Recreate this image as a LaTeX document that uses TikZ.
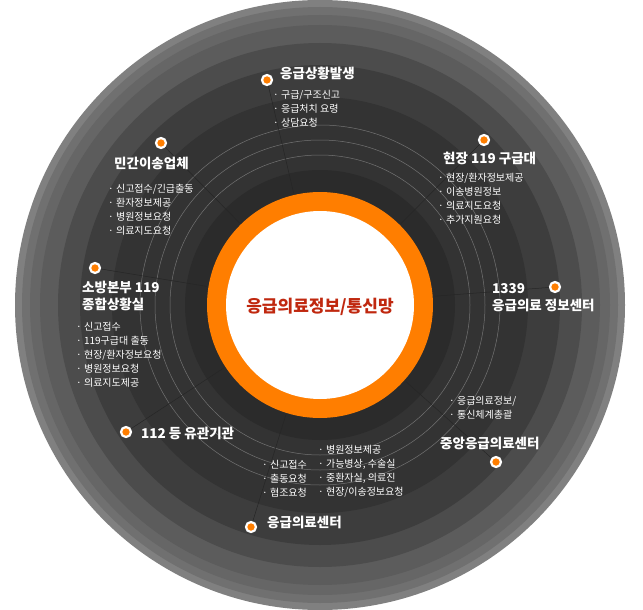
\documentclass[tikz,border=0pt]{standalone}
\usepackage{fontspec}
\setmainfont{Noto Sans CJK KR}
\usetikzlibrary{calc}
\definecolor{org}{HTML}{FF7E00}
\definecolor{cred}{HTML}{C0280F}
\tikzset{
 dot/.style={circle,fill=org,draw=white,line width=2.2pt,minimum size=10pt,inner sep=0pt},
 ttl/.style={anchor=west,text=white,font=\fontsize{13.5}{17}\selectfont\bfseries,inner sep=0pt,align=left},
 bul/.style={anchor=north west,text=white,font=\fontsize{10}{14}\selectfont,inner sep=0pt,align=left},
 conn/.style={draw=black!85,line width=0.5pt},
 ring/.style={draw=white!45!black,line width=0.5pt}
}
\begin{document}
\begin{tikzpicture}[x=1pt,y=-1pt]
\useasboundingbox (0,0) rectangle (643,610);
\fill[white] (0,0) rectangle (643,610);
\coordinate (c) at (320,305);
\fill[black!50] (c) circle (305);
\fill[black!56] (c) circle (298);
\fill[black!60] (c) circle (290);
\fill[black!64] (c) circle (280);
\fill[black!70] (c) circle (262);
\fill[black!76] (c) circle (240);
\fill[black!80] (c) circle (208);
\draw[ring] (c) circle (180);
\draw[ring] (c) circle (165);
\draw[ring] (c) circle (150);
\fill[black!83] (c) circle (135);
\node[dot] (d1) at (267,80) {};
\node[dot] (d2) at (161,143) {};
\node[dot] (d3) at (484,140) {};
\node[dot] (d4) at (95,268) {};
\node[dot] (d5) at (555,287) {};
\node[dot] (d6) at (126,432) {};
\node[dot] (d7) at (496,462) {};
\node[dot] (d8) at (251,527) {};
\foreach \d in {d1,d2,d3,d4,d5,d6,d7,d8}{
 \coordinate (e\d) at ($(c)!115pt!(\d)$);
 \draw[conn] (\d) -- (e\d);
}
\fill[org] (c) circle (113);
\fill[white] (c) circle (94);
\node[text=cred,font=\fontsize{17}{19}\selectfont\bfseries] (center) at (320,307) {응급의료정보/통신망};
\node[ttl] (t1) at (280,73) {응급상황발생};
\node[bul] (b1) at (273,90) {· 구급/구조신고\\· 응급처치 요령\\· 상담요청};
\node[ttl] (t2) at (114,163) {민간이송업체};
\node[bul] (b2) at (108,184) {· 신고접수/긴급출동\\· 환자정보제공\\· 병원정보요청\\· 의료지도요청};
\node[ttl] (t3) at (443,158) {현장 119 구급대};
\node[bul] (b3) at (438,173) {· 현장/환자정보제공\\· 이송병원정보\\· 의료지도요청\\· 추가지원요청};
\node[ttl] (t4) at (82,296) {소방본부 119\\종합상황실};
\node[bul] (b4) at (76,322) {· 신고접수\\· 119구급대 출동\\· 현장/환자정보요청\\· 병원정보요청\\· 의료지도제공};
\node[ttl] (t5) at (492,298) {1339\\응급의료 정보센터};
\node[ttl] (t6) at (141,433) {112 등 유관기관};
\node[bul] (b6) at (449,396) {· 응급의료정보/\\· 통신체계총괄};
\node[ttl] (t7) at (440,443) {중앙응급의료센터};
\node[bul] (b7) at (262,460) {· 신고접수\\· 출동요청\\· 협조요청};
\node[bul] (b8) at (318,445) {· 병원정보제공\\· 가능병상, 수술실\\· 중환자실, 의료진\\· 현장/이송정보요청};
\node[ttl] (t8) at (267,522) {응급의료센터};
\end{tikzpicture}
\end{document}
